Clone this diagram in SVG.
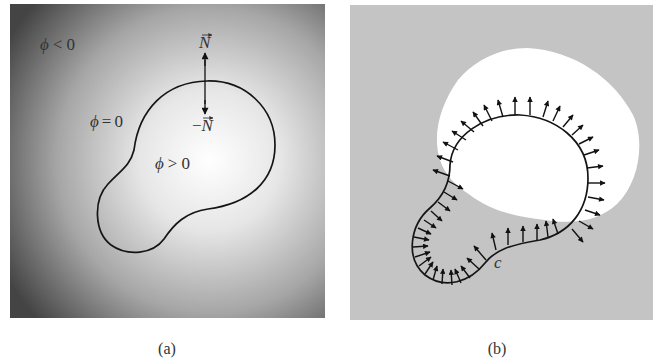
<svg xmlns="http://www.w3.org/2000/svg" width="653" height="362" viewBox="0 0 653 362">
<defs>
<radialGradient id="gA" gradientUnits="userSpaceOnUse" cx="210" cy="160" r="235">
<stop offset="0" stop-color="#ffffff"/>
<stop offset="0.3" stop-color="#e6e6e6"/>
<stop offset="0.65" stop-color="#a6a6a6"/>
<stop offset="1" stop-color="#444444"/>
</radialGradient>
<marker id="ah" viewBox="0 0 10 10" refX="9" refY="5" markerWidth="7" markerHeight="5.5" markerUnits="userSpaceOnUse" orient="auto">
<path d="M0,0 L10,5 L0,10 Z" fill="#111"/>
</marker>
<marker id="ahA" viewBox="0 0 10 10" refX="9" refY="5" markerWidth="9" markerHeight="7" markerUnits="userSpaceOnUse" orient="auto">
<path d="M0,0 L10,5 L0,10 Z" fill="#111"/>
</marker>
<marker id="vec" viewBox="0 0 10 10" refX="9" refY="5" markerWidth="4" markerHeight="4" markerUnits="userSpaceOnUse" orient="auto">
<path d="M0,0 L10,5 L0,10 Z" fill="#333"/>
</marker>
</defs>
<style>
.curve{fill:none;stroke:#151515;stroke-width:1.7}
.lbl{font-family:"Liberation Serif","DejaVu Serif",serif;font-size:17px;fill:#333}
.it{font-style:italic}
.cap{font-family:"Liberation Serif","DejaVu Serif",serif;font-size:16px;fill:#333}
.nv{stroke:#111;stroke-width:1.4;fill:none;marker-end:url(#ah)}
.va{stroke:#333;stroke-width:0.9;fill:none;marker-end:url(#vec)}
</style>
<rect x="0" y="0" width="653" height="362" fill="#ffffff"/>

<g id="panel-a">
<rect x="10" y="4" width="315" height="314" fill="url(#gA)"/>
<path class="curve" d="M207,81 C245,80 275,108 275,145 C275,182 248,204 208,209 C186,212 174,224 164,239 C153,254 128,257 111,245 C94,232 93,200 108,184 C121,170 130,166 134,150 C139,110 165,82 207,81 Z"/>
<g id="connectors">
<line x1="205" y1="60" x2="205" y2="104" stroke="#111" stroke-width="1.3"/>
<line x1="205" y1="66" x2="205" y2="53" stroke="#111" stroke-width="1.3" marker-end="url(#ahA)"/>
<line x1="205" y1="100" x2="205" y2="114" stroke="#111" stroke-width="1.3" marker-end="url(#ahA)"/>
</g>
<text class="lbl" x="40" y="50"><tspan class="it">ϕ</tspan><tspan dx="4">&lt;</tspan><tspan dx="4">0</tspan></text>
<text class="lbl it" x="199" y="48">N</text>
<line class="va" x1="202" y1="35" x2="212" y2="35"/>
<text class="lbl" x="192" y="131">−<tspan class="it">N</tspan></text>
<line class="va" x1="203" y1="118" x2="213" y2="118"/>
<text class="lbl" x="90" y="127"><tspan class="it">ϕ</tspan><tspan dx="3">=</tspan><tspan dx="3">0</tspan></text>
<text class="lbl" x="155" y="169"><tspan class="it">ϕ</tspan><tspan dx="4">&gt;</tspan><tspan dx="4">0</tspan></text>
</g>

<g id="panel-b">
<rect x="350" y="5" width="303" height="315" fill="#c4c4c4"/>
<path d="M527,48 C575,50 615,80 633,115 C645,140 640,182 617,204 C600,220 575,225 545,220 C515,217 490,210 470,195 C455,185 445,175 440,160 C432,135 440,105 458,80 C475,60 500,48 527,48 Z" fill="#ffffff"/>
<path class="curve" d="M520,115 C555,117 588,140 588,178 C588,210 570,233 540,240 C510,245 495,250 485,263 C470,282 445,290 425,275 C405,258 410,225 430,208 C445,195 450,180 450,165 C452,135 485,114 520,115 Z"/>
<g id="normals">
<line class="nv" x1="450" y1="176" x2="433" y2="170"/>
<line class="nv" x1="453" y1="162" x2="437" y2="156"/>
<line class="nv" x1="458" y1="150" x2="443" y2="142"/>
<line class="nv" x1="466" y1="140" x2="452" y2="131"/>
<line class="nv" x1="474" y1="132" x2="461" y2="121"/>
<line class="nv" x1="483" y1="126" x2="473" y2="112"/>
<line class="nv" x1="492" y1="121" x2="484" y2="105"/>
<line class="nv" x1="503" y1="117" x2="498" y2="100"/>
<line class="nv" x1="515" y1="115" x2="515" y2="97"/>
<line class="nv" x1="530" y1="115" x2="530" y2="97"/>
<line class="nv" x1="543" y1="117" x2="548" y2="101"/>
<line class="nv" x1="553" y1="121" x2="560" y2="106"/>
<line class="nv" x1="563" y1="127" x2="573" y2="115"/>
<line class="nv" x1="572" y1="135" x2="583" y2="125"/>
<line class="nv" x1="579" y1="144" x2="593" y2="137"/>
<line class="nv" x1="584" y1="155" x2="599" y2="150"/>
<line class="nv" x1="587" y1="168" x2="603" y2="166"/>
<line class="nv" x1="588" y1="183" x2="605" y2="183"/>
<line class="nv" x1="588" y1="197" x2="604" y2="200"/>
<line class="nv" x1="585" y1="210" x2="600" y2="215"/>
<line class="nv" x1="579" y1="221" x2="593" y2="229"/>
<line class="nv" x1="572" y1="229" x2="583" y2="242"/>
<line class="nv" x1="558" y1="234" x2="553" y2="219"/>
<line class="nv" x1="548" y1="237" x2="546" y2="221"/>
<line class="nv" x1="537" y1="240" x2="537" y2="224"/>
<line class="nv" x1="523" y1="242" x2="523" y2="226"/>
<line class="nv" x1="508" y1="245" x2="508" y2="228"/>
<line class="nv" x1="496" y1="250" x2="492" y2="233"/>
<line class="nv" x1="486" y1="260" x2="474" y2="246"/>
<line class="nv" x1="479" y1="269" x2="467" y2="258"/>
<line class="nv" x1="470" y1="278" x2="461" y2="266"/>
<line class="nv" x1="461" y1="283" x2="455" y2="269"/>
<line class="nv" x1="452" y1="285" x2="451" y2="270"/>
<line class="nv" x1="442" y1="284" x2="443" y2="269"/>
<line class="nv" x1="433" y1="280" x2="437" y2="266"/>
<line class="nv" x1="425" y1="274" x2="433" y2="262"/>
<line class="nv" x1="419" y1="266" x2="431" y2="257"/>
<line class="nv" x1="415" y1="257" x2="430" y2="252"/>
<line class="nv" x1="413" y1="247" x2="428" y2="246"/>
<line class="nv" x1="414" y1="237" x2="429" y2="240"/>
<line class="nv" x1="418" y1="228" x2="431" y2="234"/>
<line class="nv" x1="424" y1="220" x2="436" y2="228"/>
<line class="nv" x1="431" y1="211" x2="442" y2="221"/>
<line class="nv" x1="438" y1="202" x2="450" y2="211"/>
<line class="nv" x1="444" y1="192" x2="457" y2="200"/>
<line class="nv" x1="448" y1="181" x2="463" y2="189"/>
</g>
<text class="lbl it" x="494" y="268" font-size="16" fill="#555">c</text>
</g>

<text class="cap" x="167" y="354" text-anchor="middle">(a)</text>
<text class="cap" x="497" y="354" text-anchor="middle">(b)</text>
</svg>
